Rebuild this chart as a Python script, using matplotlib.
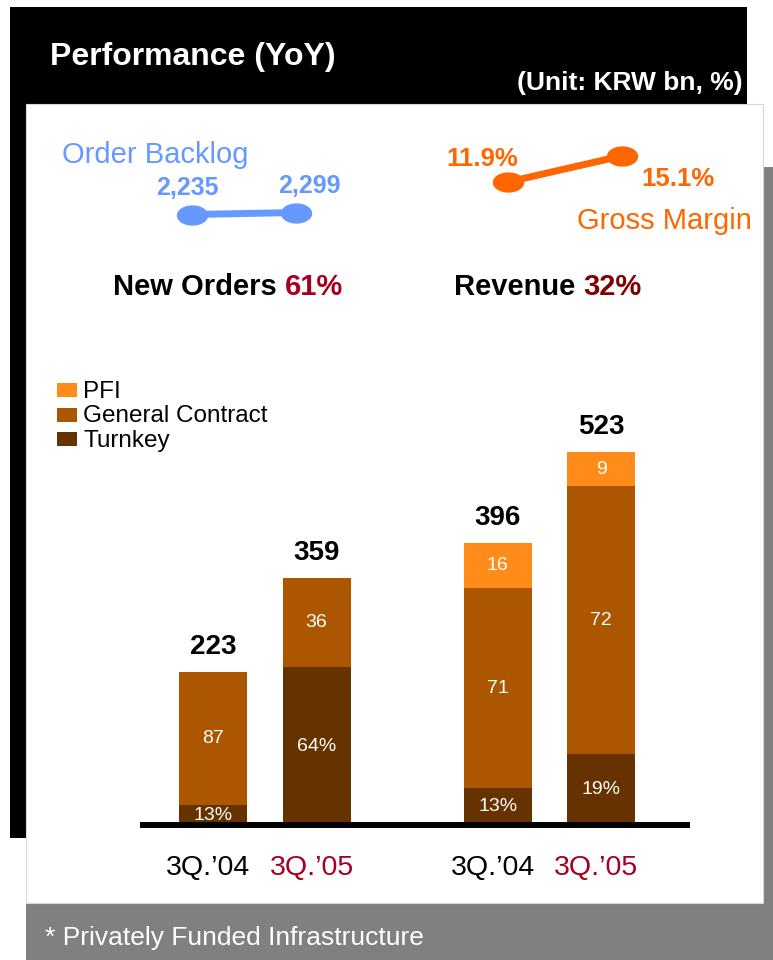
import numpy as np
import matplotlib
matplotlib.use("Agg")
import matplotlib.pyplot as plt
from matplotlib.patches import Rectangle
from matplotlib.path import Path

plt.rcParams['font.family'] = ['Liberation Sans', 'DejaVu Sans']

# data
periods = ["3Q.\u201904", "3Q.\u201905"]
segments = ["PFI", "General Contract", "Turnkey"]

new_totals = [223, 359]
new_turnkey = [13, 64]      # share, %
new_general = [87, 36]
new_pfi = [0, 0]

rev_totals = [396, 523]
rev_turnkey = [13, 19]
rev_general = [71, 72]
rev_pfi = [16, 9]

backlog = [2235, 2299]
gross_margin = [11.9, 15.1]
new_orders_growth = "61%"
revenue_growth = "32%"

# colours
c_pfi, c_gen, c_turn = "#ff8c1a", "#ad5600", "#663300"
blue, orange = "#6699ff", "#ff6600"
crimson, maroon = "#a50021", "#800000"
grey = "#808080"

W, H = 773, 960
fig = plt.figure(figsize=(W / 100, H / 100), dpi=100)


def px_axes(x0, y0, x1, y1):
    return fig.add_axes([x0 / W, 1 - y1 / H, (x1 - x0) / W, (y1 - y0) / H])


# frame in pixel coords
bg = px_axes(0, 0, W, H)
bg.set_xlim(0, W)
bg.set_ylim(H, 0)
bg.axis('off')
bg.add_patch(Rectangle((10, 7), 737, 831, color="black", lw=0))
bg.add_patch(Rectangle((26, 167), 747, 793, color=grey, lw=0))
bg.add_patch(Rectangle((26, 104), 737, 799, facecolor="white", edgecolor="#d8d8d8", lw=0.8))

bg.text(50, 65, "Performance (YoY)", color="white", fontsize=23, fontweight="bold", va="baseline")
bg.text(743, 90, "(Unit: KRW bn, %)", color="white", fontsize=19, fontweight="bold",
        va="baseline", ha="right")
bg.text(62, 163, "Order Backlog", color=blue, fontsize=21, va="baseline")
bg.text(752, 229, "Gross Margin", color=orange, fontsize=21, va="baseline", ha="right")

t = bg.text(113, 295, "New Orders ", fontsize=21, fontweight="bold", va="baseline")
bg.annotate(new_orders_growth, xycoords=t, xy=(1, 0), va="bottom", fontsize=21,
            fontweight="bold", color=crimson)
t = bg.text(454, 295, "Revenue ", fontsize=21, fontweight="bold", va="baseline")
bg.annotate(revenue_growth, xycoords=t, xy=(1, 0), va="bottom", fontsize=21,
            fontweight="bold", color=maroon)

# legend
for i, (name, col) in enumerate(zip(segments, [c_pfi, c_gen, c_turn])):
    y = 383 + i * 24.5
    bg.add_patch(Rectangle((57, y), 20, 14, color=col, lw=0))
    bg.text(83, y + 14.5, name, fontsize=17.5, va="baseline")

bg.text(45, 945, "* Privately Funded Infrastructure", color="white", fontsize=19, va="baseline")

# stacked bars
unit = 103.5
pos_new = np.array([0.0, 1.0])
pos_rev = pos_new + 2.75
width = 68 / unit

ax_new = px_axes(140, 380, 690, 825)
ax_new.set_xlim((140 - 213) / unit, (690 - 213) / unit)
ax_new.set_ylim(0, 445 / 0.687)
ax_rev = ax_new.twinx()
ax_rev.set_ylim(0, 445 / 0.7125)
for ax in (ax_new, ax_rev):
    ax.axis('off')
    ax.patch.set_visible(False)

groups = [
    (ax_new, pos_new, new_totals, [new_turnkey, new_general, new_pfi]),
    (ax_rev, pos_rev, rev_totals, [rev_turnkey, rev_general, rev_pfi]),
]
for ax, pos, totals, shares in groups:
    bottom = np.zeros(len(pos))
    for k, (share, col) in enumerate(zip(shares, [c_turn, c_gen, c_pfi])):
        h = np.array(totals) * np.array(share) / 100
        ax.bar(pos, h, width, bottom=bottom, color=col, lw=0)
        for x, b, hh, s in zip(pos, bottom, h, share):
            if s:
                lab = f"{s}%" if k == 0 else f"{s}"
                ax.text(x, b + hh / 2, lab, color="white", fontsize=14,
                        ha="center", va="center")
        bottom += h
    for x, tot in zip(pos, totals):
        ax.annotate(f"{tot}", xy=(x, tot), xytext=(0, 18), textcoords="offset points",
                    ha="center", va="center", fontsize=20, fontweight="bold")

ax_rev.axhline(0, color="black", lw=4.3, zorder=5, clip_on=False, solid_capstyle="butt")

for x, lab, col in zip(np.concatenate([pos_new, pos_rev]), periods * 2,
                       ["black", crimson] * 2):
    ax_rev.annotate(lab, xy=(x, 0), xytext=(-3.5, -31), textcoords="offset points",
                    ha="center", va="center", fontsize=20.5, color=col)

# mini line charts
th = np.linspace(0, 2 * np.pi, 60)
ellipse = Path(np.column_stack([np.cos(th), 0.63 * np.sin(th)]))

bl = px_axes(192, 195, 295.5, 235)
bl.set_xlim(0, 1)
bl.set_ylim(1579, 2859)
bl.axis('off')
bl.plot([0, 1], backlog, color=blue, lw=5, marker=ellipse, ms=21.6, clip_on=False)
for x, v, off in zip([0, 1], backlog, [(-3, 19), (9.7, 19)]):
    bl.annotate(f"{v:,}", xy=(x, v), xytext=off, textcoords="offset points",
                ha="center", va="center", fontsize=18, fontweight="bold", color=blue)

gm = px_axes(508, 140, 621.5, 200)
gm.set_xlim(0, 1)
gm.set_ylim(9.68, 17.07)
gm.axis('off')
gm.plot([0, 1], gross_margin, color=orange, lw=5, marker=ellipse, ms=21.6, clip_on=False)
for x, v, off in zip([0, 1], gross_margin, [(-18.4, 16.5), (41, -16.5)]):
    gm.annotate(f"{v}%", xy=(x, v), xytext=off, textcoords="offset points",
                ha="center", va="center", fontsize=18.5, fontweight="bold", color=orange)

fig.savefig("out.png", dpi=100)
